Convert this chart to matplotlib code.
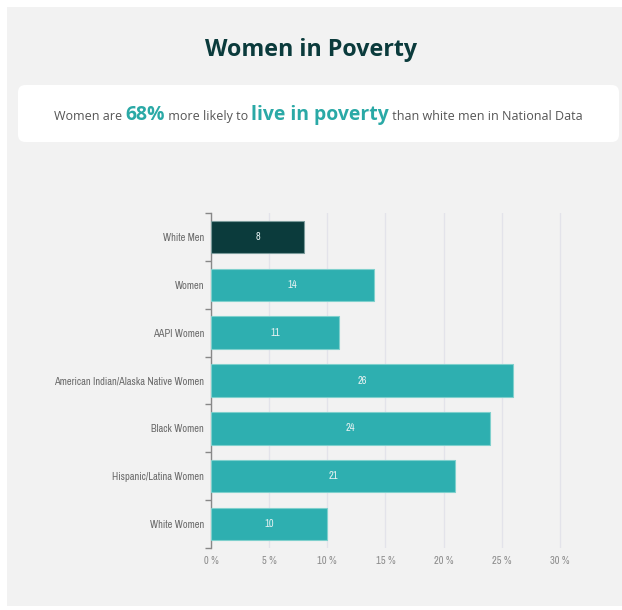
import matplotlib
matplotlib.use("Agg")
import matplotlib.pyplot as plt
from matplotlib.patches import FancyBboxPatch, Rectangle
from matplotlib import font_manager

categories = ["White Men", "Women", "AAPI Women", "American Indian/Alaska Native Women",
              "Black Women", "Hispanic/Latina Women", "White Women"]
values = [8, 14, 11, 26, 24, 21, 10]
xticks = [0, 5, 10, 15, 20, 25, 30]
xtick_labels = ["0 %", "5 %", "10 %", "15 %", "20 %", "25 %", "30 %"]

title = "Women in Poverty"
subtitle_parts = [("Women are ", "normal", 11, "#555555"),
                  ("68%", "bold", 17, "#2aa9a6"),
                  (" more likely to ", "normal", 11, "#555555"),
                  ("live in poverty", "bold", 17, "#2aa9a6"),
                  (" than white men in National Data", "normal", 11, "#555555")]

# pick a condensed font if one exists
cond = None
for f in font_manager.fontManager.ttflist:
    if "Narrow" in f.name or "Condensed" in f.name:
        cond = f.name
        break
if cond is None:
    for f in font_manager.fontManager.ttflist:
        if f.stretch in ("condensed", "semi-condensed",
                         "extra-condensed") or (isinstance(f.stretch, int) and f.stretch < 500):
            cond = f.name
            break
label_font = cond if cond else "Liberation Sans"
label_fs = 7.5 if cond else 7

W, H = 622, 610
fig = plt.figure(figsize=(W / 100, H / 100), dpi=100)
fig.patch.set_facecolor("white")

bg = "#f2f2f2"
fig.add_artist(Rectangle((7 / W, 4 / H), 1 - 7 / W, 1 - 11 / H, transform=fig.transFigure,
                         facecolor=bg, edgecolor="none", zorder=0))
fig.add_artist(FancyBboxPatch((18 / W, 1 - 142 / H), (619 - 18) / W, (142 - 85) / H,
                              boxstyle="round,pad=0,rounding_size=0.012",
                              transform=fig.transFigure, facecolor="white",
                              edgecolor="none", zorder=1))

renderer = fig.canvas.get_renderer()

tt = fig.text(0.5, 1 - 50 / H, title, ha="center", va="center", fontsize=20,
              fontweight="bold", color="#0b3b3c", family="Open Sans", zorder=2)
tw = tt.get_window_extent(renderer).width
tt.set_fontsize(20 * 212 / tw)

# subtitle pieces
texts = []
for s, w, fs, c in subtitle_parts:
    t = fig.text(0, 1 - 120 / H, s, ha="left", va="baseline", fontsize=fs,
                 fontweight=w, color=c, family="Open Sans", zorder=2)
    texts.append(t)
widths = [t.get_window_extent(renderer).width for t in texts]
scale = 526 / sum(widths)
for t, (s, w, fs, c) in zip(texts, subtitle_parts):
    t.set_fontsize(fs * scale)
widths = [t.get_window_extent(renderer).width for t in texts]
x = 318 - sum(widths) / 2
for t, w in zip(texts, widths):
    t.set_x(x / W)
    x += w

ax = fig.add_axes([211 / W, 1 - 548 / H, (575 - 211) / W, (548 - 213) / H])
ax.set_facecolor("none")
y = list(range(len(categories)))
colors = ["#0b3b3c"] + ["#2eafb0"] * (len(categories) - 1)
edges = ["#7a9a9a"] + ["#7fd0cd"] * (len(categories) - 1)
ax.barh(y, values, height=0.68, color=colors, edgecolor=edges, linewidth=0.8, zorder=3)
for yi, v in zip(y, values):
    ax.text(v / 2, yi, str(v), ha="center", va="center", color="#e6f2f2", fontsize=label_fs,
            family=label_font, zorder=4)
ax.set_ylim(len(categories) - 0.5, -0.5)
ax.set_xlim(0, 31.3)
ax.set_xticks(xticks)
ax.set_xticklabels(xtick_labels, family=label_font, fontsize=label_fs, color="#8a8a8a")
ax.set_yticks(y)
ax.set_yticklabels(categories, family=label_font, fontsize=label_fs, color="#6a6a6a")
ax.set_yticks([i - 0.5 for i in range(len(categories) + 1)], minor=True)
ax.tick_params(axis="y", which="major", length=0, pad=5)
ax.tick_params(axis="y", which="minor", length=4, color="#888888", width=1)
ax.tick_params(axis="x", length=0, pad=6)
ax.grid(axis="x", color="#e3e3ea", linewidth=1, zorder=0)
for s in ["top", "right", "bottom"]:
    ax.spines[s].set_visible(False)
ax.spines["left"].set_color("#888888")
ax.spines["left"].set_linewidth(1)

fig.savefig("out.png", dpi=100, facecolor=fig.get_facecolor())
